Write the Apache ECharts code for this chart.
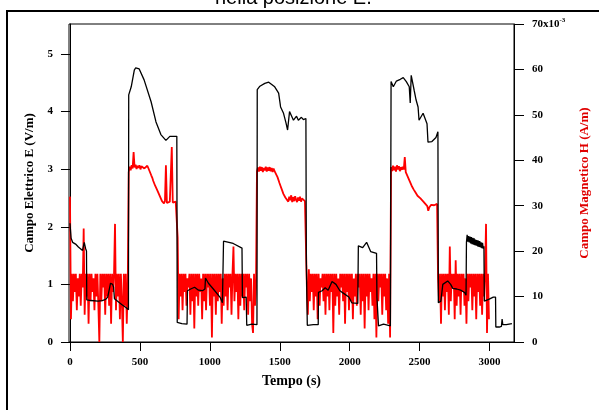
<!DOCTYPE html>
<html>
<head>
<meta charset="utf-8">
<script src="https://cdn.jsdelivr.net/npm/echarts@6/dist/echarts.min.js"></script>
<style>
  html, body { margin: 0; padding: 0; background: #fff; }
  #chart { width: 599px; height: 410px; }
</style>
</head>
<body>
<div id="chart"></div>
<script>
// Campo elettrico E (V/m) - asse sinistro
const eTime = [0, 8, 19, 40, 60, 90, 98, 102, 112, 118, 120, 150, 200, 230, 255, 270, 282, 290, 305, 312, 318, 330, 370, 400, 418,
  420, 438, 460, 470, 495, 530, 580, 615, 650, 686, 714, 764,
  767, 800, 837, 840, 863, 891, 919, 947, 965, 969, 990, 1025, 1075, 1090, 1098, 1167, 1230, 1233, 1260, 1264, 1300, 1337,
  1339, 1358, 1393, 1421, 1464, 1492, 1506, 1527, 1545, 1556, 1570, 1598, 1620, 1633, 1655, 1669, 1687,
  1690, 1697, 1740, 1775, 1777, 1803, 1825, 1846, 1874, 1902, 1930, 1959, 1994, 2015, 2058, 2062, 2093, 2121, 2150, 2192, 2195, 2206, 2242, 2291,
  2296, 2312, 2334, 2362, 2383, 2405, 2426, 2433, 2440, 2461, 2475, 2489, 2496, 2510, 2525, 2539, 2553, 2560, 2588, 2617, 2631,
  2634, 2652, 2666, 2680, 2701, 2722, 2737, 2765, 2793, 2822, 2832,
  2835, 2840, 2845, 2850, 2855, 2860, 2865, 2870, 2875, 2880, 2885, 2890, 2895, 2900, 2905, 2910, 2915, 2920, 2925, 2930, 2935, 2940, 2945, 2950, 2955, 2960,
  2963, 2994, 3027, 3043, 3045, 3070, 3085, 3090, 3095, 3120, 3160]
const eValue = [2.06, 1.80, 1.73, 1.70, 1.65, 1.59, 1.62, 1.73, 1.62, 1.58, 0.73, 0.72, 0.71, 0.72, 0.74, 0.78, 0.80, 1.02, 1.00, 0.95, 0.75, 0.72, 0.65, 0.60, 0.56,
  4.29, 4.43, 4.72, 4.76, 4.74, 4.55, 4.17, 3.82, 3.60, 3.50, 3.57, 3.57,
  0.34, 0.32, 0.31, 0.89, 0.92, 0.95, 0.90, 0.89, 0.92, 1.11, 1.02, 0.92, 0.77, 0.68, 1.75, 1.71, 1.63, 0.77, 0.78, 0.29, 0.31, 0.30,
  4.38, 4.44, 4.49, 4.51, 4.43, 4.32, 4.08, 3.97, 3.80, 3.68, 4.00, 3.85, 3.92, 3.85, 3.90, 3.86, 3.88,
  1.41, 0.29, 0.30, 0.30, 0.86, 0.89, 0.94, 0.90, 1.05, 1.00, 0.89, 0.84, 0.78, 0.68, 0.67, 1.67, 1.64, 1.73, 1.57, 1.54, 0.77, 0.28, 0.31, 0.28,
  4.52, 4.43, 4.53, 4.56, 4.59, 4.52, 4.43, 4.15, 4.63, 4.37, 4.20, 4.08, 3.85, 3.82, 3.97, 3.88, 3.79, 3.47, 3.48, 3.55, 3.65,
  0.68, 0.71, 1.00, 0.98, 1.06, 1.00, 0.93, 0.92, 0.90, 0.86, 0.81,
  1.73, 1.86, 1.74, 1.84, 1.73, 1.83, 1.71, 1.82, 1.70, 1.81, 1.69, 1.80, 1.68, 1.78, 1.67, 1.77, 1.66, 1.76, 1.65, 1.75, 1.64, 1.73, 1.63, 1.72, 1.62, 1.66,
  0.71, 0.74, 0.78, 0.78, 0.26, 0.26, 0.27, 0.40, 0.30, 0.30, 0.32]

// Campo magnetico H (x10^-3 A/m) - asse destro, un campione ogni 7 s
const hStep = 7
const hSegStart = [0, 420, 770, 1337, 1694, 2296, 2632]
const hSeg1 = [32, 5, 15, 9, 15, 11, 15, 7, 14, 10,
  15, 8, 15, 12, 25, 6, 15, 10, 15, 4,
  15, 9, 15, 11, 14, 7, 15, 10, 15, 8,
  0, 15, 9, 15, 12, 15, 6, 15, 10, 15,
  8, 15, 4, 15, 11, 15, 26, 7, 15, 10,
  15, 5, 15, 9, 0, 15, 8, 15, 4, 12]
const hSeg2 = [37.4, 38.6, 37.8, 38.9, 38.2, 41.8, 38.4, 39.0, 38.1, 38.8,
  38.3, 38.9, 38.0, 38.7, 38.4, 38.9, 38.2, 38.6, 38.1, 38.8,
  38.3, 38.5, 37.9, 36.7, 36.2, 35.5, 35.2, 34.4, 34.0, 33.5,
  33.0, 32.6, 32.0, 31.6, 31.0, 30.8, 30.5, 31.0, 38.9, 30.6,
  31.0, 30.4, 30.9, 30.5, 42.9, 30.7, 31.0, 30.4, 30.9, 30.6]
const hSeg3 = [23, 5, 15, 10, 15, 7, 15, 11, 15, 8,
  14, 12, 15, 6, 15, 9, 15, 3, 15, 10,
  15, 8, 15, 11, 14, 5, 15, 9, 15, 7,
  15, 12, 15, 8, 15, 1, 15, 10, 15, 6,
  15, 9, 15, 11, 15, 4, 14, 8, 15, 10,
  15, 7, 15, 12, 15, 6, 15, 21, 9, 15,
  11, 15, 5, 15, 8, 15, 10, 15, 7, 15,
  12, 15, 6, 15, 9, 14, 4, 2, 15, 8,
  12]
const hSeg4 = [37.6, 38.4, 37.5, 38.6, 37.7, 38.5, 37.4, 38.3, 37.8, 38.6,
  37.5, 38.4, 37.7, 38.5, 37.6, 38.3, 37.4, 38.2, 37.6, 38.0,
  37.2, 36.3, 35.9, 35.0, 34.4, 34.0, 33.2, 32.6, 32.4, 31.8,
  31.5, 32.2, 30.9, 32.0, 31.2, 32.3, 30.8, 31.9, 31.0, 32.1,
  31.3, 30.8, 31.8, 31.1, 32.0, 30.9, 31.6, 31.2, 31.9, 31.0,
  31.4]
const hSeg5 = [12, 6, 16, 9, 15, 11, 15, 7, 15, 10,
  15, 5, 15, 8, 14, 12, 15, 9, 15, 6,
  15, 10, 15, 7, 15, 11, 15, 2, 15, 8,
  15, 10, 14, 6, 15, 12, 15, 9, 15, 4,
  15, 11, 15, 7, 15, 9, 15, 5, 14, 10,
  15, 8, 15, 12, 15, 6, 15, 9, 15, 3,
  15, 10, 15, 7, 15, 11, 14, 8, 15, 5,
  15, 1, 15, 9, 15, 12, 15, 6, 15, 10,
  15, 7, 14, 4, 15, 1]
const hSeg6 = [38.5, 37.6, 38.8, 37.8, 38.6, 37.5, 38.9, 38.0, 38.7, 37.6,
  38.5, 37.9, 38.6, 38.0, 40.7, 37.4, 37.0, 36.4, 35.9, 35.4,
  34.9, 34.4, 34.0, 33.6, 33.3, 32.9, 32.5, 32.2, 32.0, 31.8,
  31.6, 31.5, 31.2, 30.9, 30.6, 30.4, 30.1, 29.9, 28.9, 29.6,
  29.9, 30.2, 30.0, 30.4, 30.1, 30.5, 30.2, 30.4]
const hSeg7 = [14, 9, 15, 4, 15, 10, 15, 7, 15, 11,
  15, 6, 21, 9, 15, 12, 15, 5, 18, 8,
  15, 10, 15, 6, 15, 11, 15, 8, 14, 4,
  15, 9, 15, 12, 15, 7, 15, 10, 15, 5,
  15, 11, 15, 8, 15, 6, 15, 10, 15, 26,
  2, 15, 5]

// tacche degli assi
const xTicks = [0, 500, 1000, 1500, 2000, 2500, 3000]
const eTicks = [0, 1, 2, 3, 4, 5]
const hTicks = [0, 10, 20, 30, 40, 50, 60, 70]

const serif = "'Liberation Serif', 'DejaVu Serif', serif"

// costruisce i punti del campo H
const hSegs = [hSeg1, hSeg2, hSeg3, hSeg4, hSeg5, hSeg6, hSeg7]
const hData = []
hSegs.forEach((seg, k) => {
  seg.forEach((v, i) => hData.push([hSegStart[k] + i * hStep, v]))
})
const eData = eTime.map((t, i) => [t, eValue[i]])

const chart = echarts.init(document.getElementById('chart'))

const labelStyle = {
  color: '#000',
  fontFamily: serif,
  fontWeight: 'bold',
  fontSize: 11,
}

const option = {
  animation: false,
  backgroundColor: '#fff',
  grid: {
    left: 69,
    right: 80,
    top: 24,
    bottom: 68,
    show: true,
    borderColor: '#000',
    borderWidth: 1,
  },
  graphic: [
    // cornice della pagina
    { type: 'line', shape: { x1: 6, y1: 11, x2: 599, y2: 11 }, style: { stroke: '#000', lineWidth: 2 } },
    { type: 'line', shape: { x1: 7, y1: 10, x2: 7, y2: 410 }, style: { stroke: '#000', lineWidth: 2 } },
    {
      type: 'text',
      left: 215,
      top: -12,
      style: {
        text: 'nella posizione E.',
        fill: '#000',
        font: "20px 'Liberation Sans', Arial, sans-serif",
      },
    },
  ],
  xAxis: {
    type: 'value',
    min: -7,
    max: 3175,
    name: 'Tempo (s)',
    nameLocation: 'middle',
    nameGap: 32,
    nameTextStyle: { color: '#000', fontFamily: serif, fontWeight: 'bold', fontSize: 14 },
    axisLine: { show: true, onZero: false, lineStyle: { color: '#000', width: 1 } },
    axisTick: { show: true, length: 9, customValues: xTicks, lineStyle: { color: '#000' } },
    axisLabel: Object.assign({ margin: 15, customValues: xTicks, formatter: (v) => String(v) }, labelStyle),
    splitLine: { show: false },
  },
  yAxis: [
    {
      type: 'value',
      position: 'left',
      min: 0,
      max: 5.52,
      name: 'Campo Elettrico E (V/m)',
      nameLocation: 'middle',
      nameGap: 27,
      nameTextStyle: { color: '#000', fontFamily: serif, fontWeight: 'bold', fontSize: 13 },
      axisLine: { show: true, lineStyle: { color: '#000', width: 1 } },
      axisTick: { show: true, length: 9, customValues: eTicks, lineStyle: { color: '#000' } },
      axisLabel: Object.assign({ margin: 16, customValues: eTicks }, labelStyle),
      splitLine: { show: false },
    },
    {
      type: 'value',
      position: 'right',
      min: 0,
      max: 70,
      name: 'Campo Magnetico H (A/m)',
      nameLocation: 'middle',
      nameGap: 64,
      nameTextStyle: { color: '#e00000', fontFamily: serif, fontWeight: 'bold', fontSize: 13 },
      axisLine: { show: true, lineStyle: { color: '#000', width: 1 } },
      axisTick: { show: true, length: 10, customValues: hTicks, lineStyle: { color: '#000' } },
      axisLabel: Object.assign({
        margin: 18,
        customValues: hTicks,
        formatter: (v) => (v === 70 ? '{b|70x10}{s|-3}' : String(v)),
        rich: {
          b: { color: '#000', fontFamily: serif, fontWeight: 'bold', fontSize: 11 },
          s: { color: '#000', fontFamily: serif, fontWeight: 'bold', fontSize: 7, padding: [0, 0, 8, 0] },
        },
      }, labelStyle),
      splitLine: { show: false },
    },
  ],
  series: [
    {
      name: 'H',
      type: 'line',
      yAxisIndex: 1,
      data: hData,
      showSymbol: false,
      lineStyle: { color: '#ff0000', width: 1.8 },
    },
    {
      name: 'E',
      type: 'line',
      yAxisIndex: 0,
      data: eData,
      showSymbol: false,
      lineStyle: { color: '#000', width: 1.3 },
    },
  ],
}

chart.setOption(option)
</script>
</body>
</html>
